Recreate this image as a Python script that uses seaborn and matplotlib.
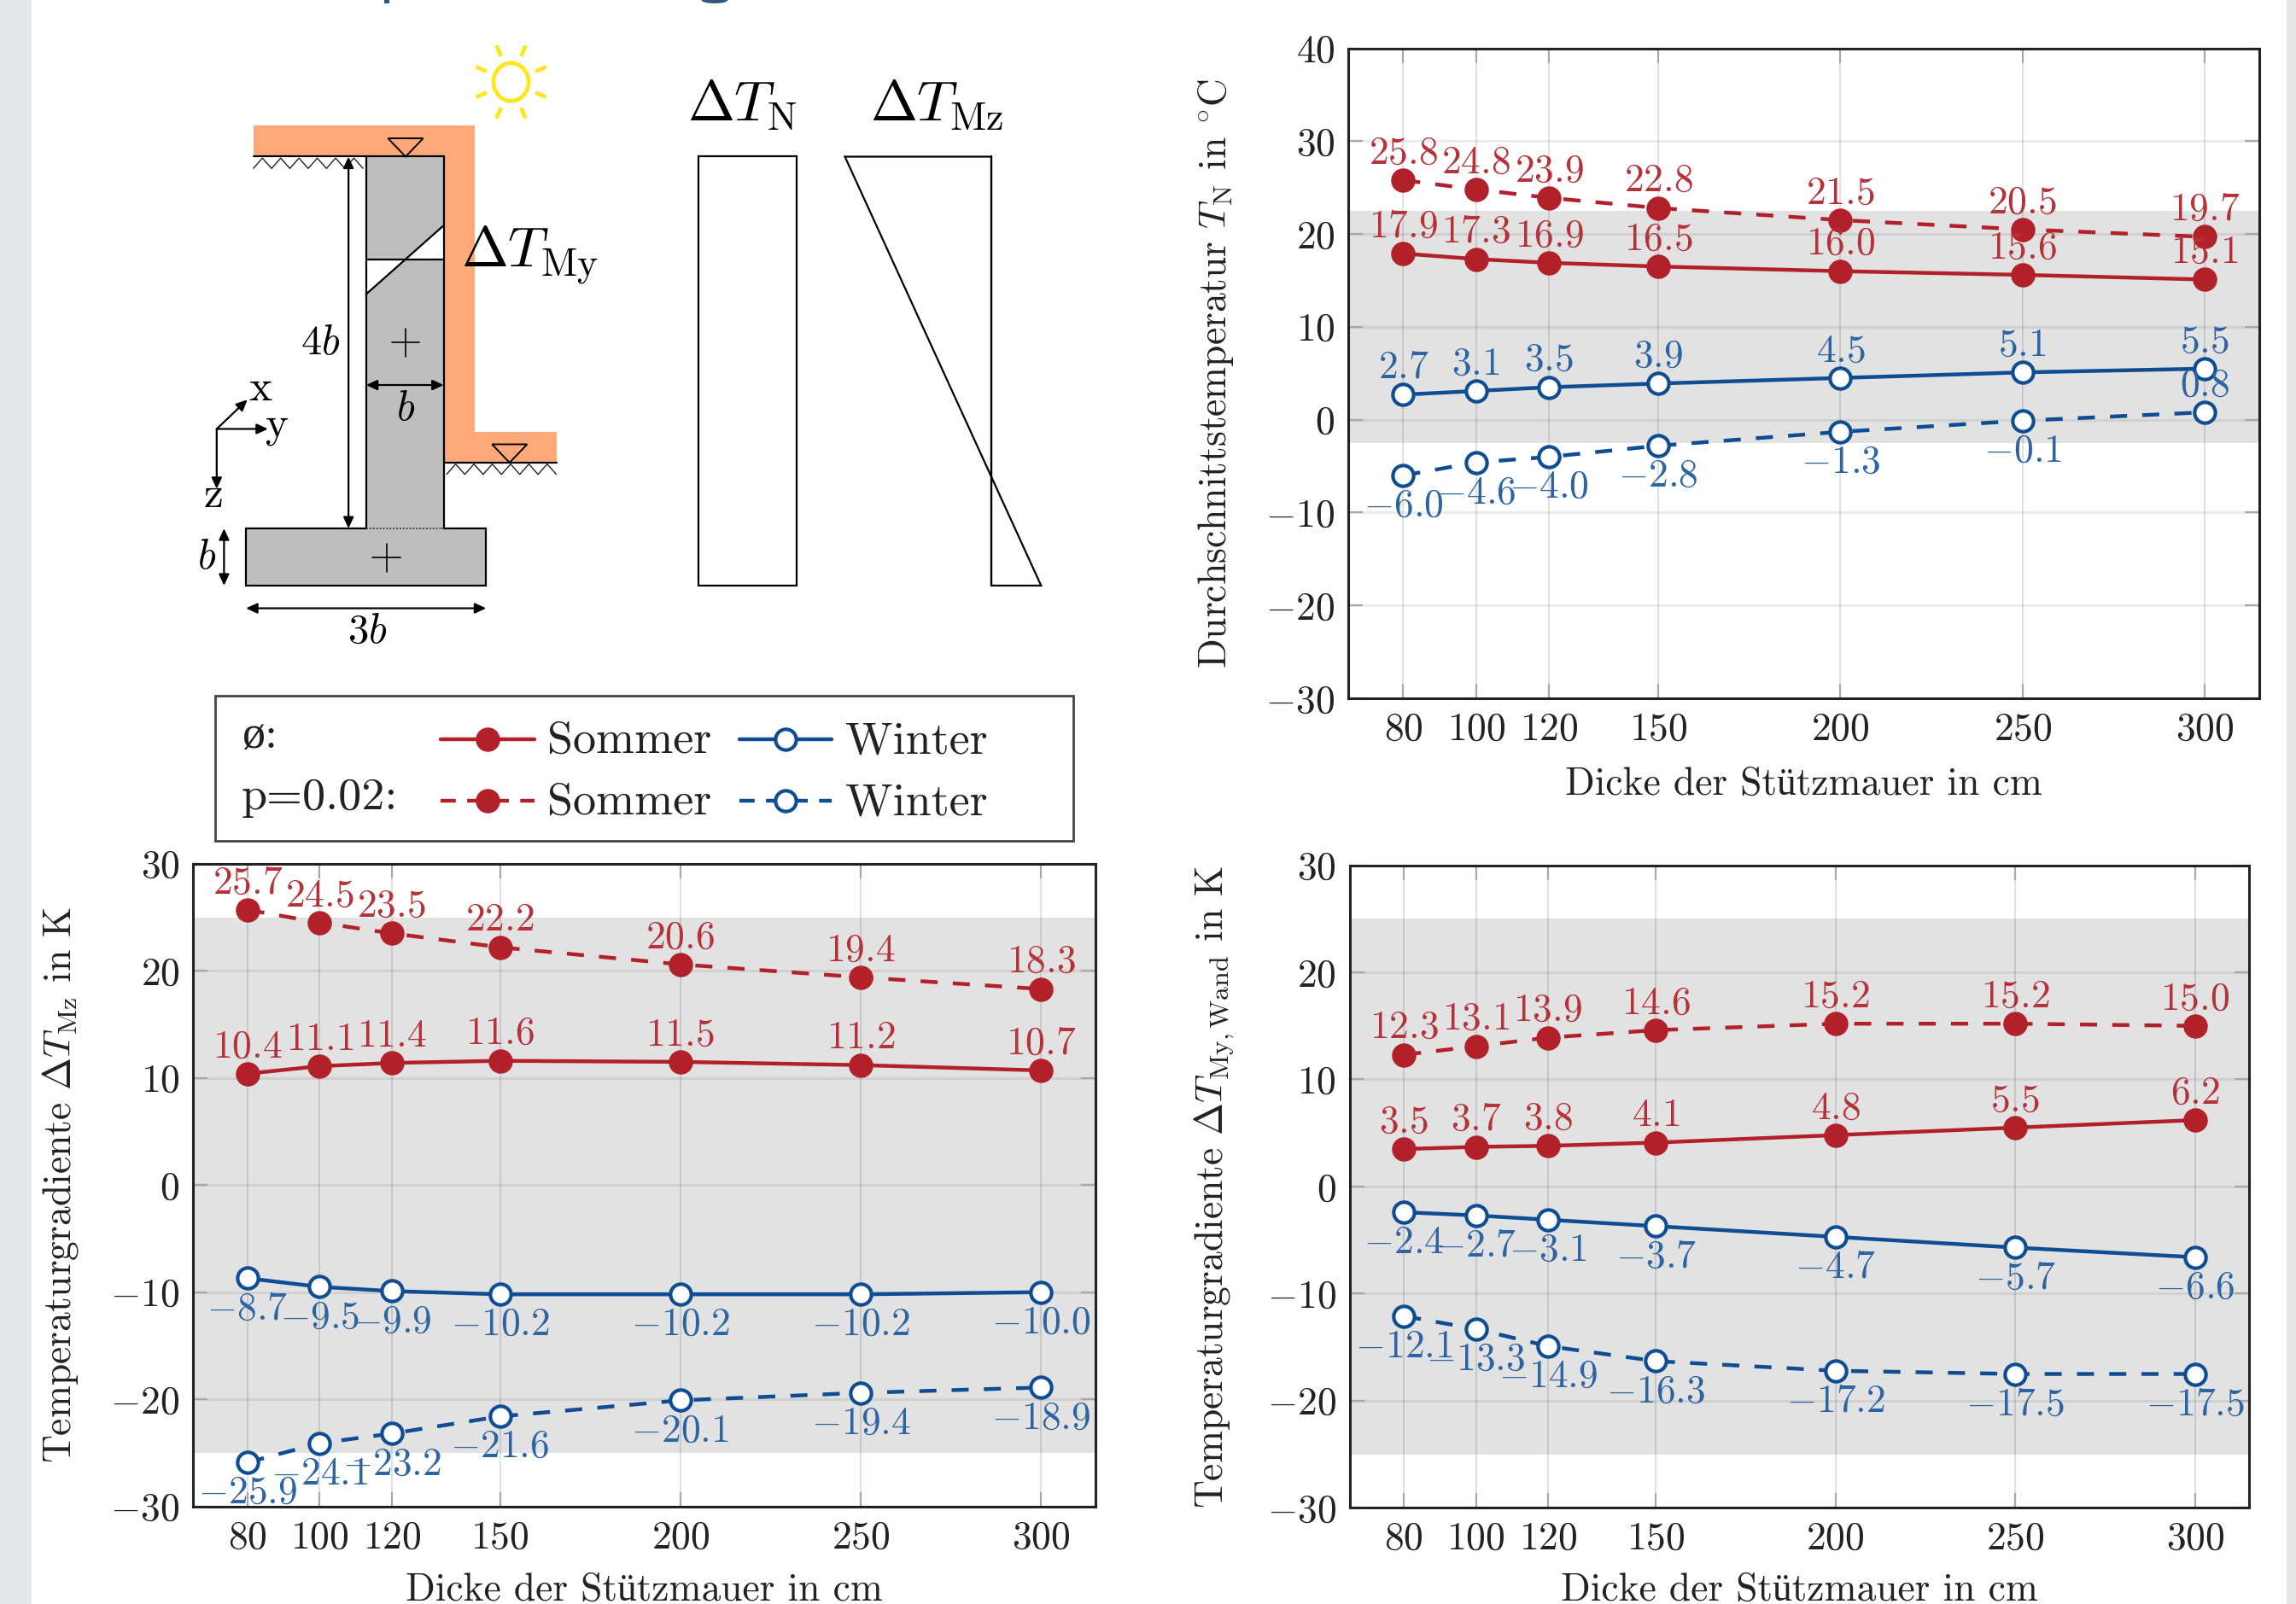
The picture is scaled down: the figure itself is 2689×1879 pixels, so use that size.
import numpy as np
import pandas as pd
import matplotlib
matplotlib.use("Agg")
import matplotlib.pyplot as plt
import seaborn as sns
from matplotlib.patches import Rectangle, Polygon, Ellipse
from matplotlib.lines import Line2D

# ---------- data ----------
dicke = [80, 100, 120, 150, 200, 250, 300]
yticks_n = [-30, -20, -10, 0, 10, 20, 30, 40]
yticks_m = [-30, -20, -10, 0, 10, 20, 30]

tn_sommer = [17.9, 17.3, 16.9, 16.5, 16.0, 15.6, 15.1]
tn_sommer_p = [25.8, 24.8, 23.9, 22.8, 21.5, 20.5, 19.7]
tn_winter = [2.7, 3.1, 3.5, 3.9, 4.5, 5.1, 5.5]
tn_winter_p = [-6.0, -4.6, -4.0, -2.8, -1.3, -0.1, 0.8]

mz_sommer = [10.4, 11.1, 11.4, 11.6, 11.5, 11.2, 10.7]
mz_sommer_p = [25.7, 24.5, 23.5, 22.2, 20.6, 19.4, 18.3]
mz_winter = [-8.7, -9.5, -9.9, -10.2, -10.2, -10.2, -10.0]
mz_winter_p = [-25.9, -24.1, -23.2, -21.6, -20.1, -19.4, -18.9]

my_sommer = [3.5, 3.7, 3.8, 4.1, 4.8, 5.5, 6.2]
my_sommer_p = [12.3, 13.1, 13.9, 14.6, 15.2, 15.2, 15.0]
my_winter = [-2.4, -2.7, -3.1, -3.7, -4.7, -5.7, -6.6]
my_winter_p = [-12.1, -13.3, -14.9, -16.3, -17.2, -17.5, -17.5]

band_n = (-2.5, 22.5)
band_m = (-25, 25)

# ---------- style ----------
sns.set_theme(style="white")
plt.rcParams["font.family"] = ["cmr10", "Liberation Serif", "DejaVu Serif"]
plt.rcParams["mathtext.fontset"] = "cm"
plt.rcParams["axes.unicode_minus"] = True
plt.rcParams["axes.formatter.use_mathtext"] = True

RED = "#B2212A"
BLUE = "#0F4D92"
RED_T = "#B5323A"
BLUE_T = "#2D64A2"
BAND = "#e2e2e2"
DARK = "#222222"
FS = 32.8

W, H = 2689, 1879
S = W / 1568.0
fig = plt.figure(figsize=(W / 100, H / 100), dpi=100, facecolor="white")


def axes_from_s(x0, y0, x1, y1, **kw):
    """Axes placed from shrunken-reference pixel bounds."""
    return fig.add_axes([x0 * S / W, 1 - y1 * S / H, (x1 - x0) * S / W, (y1 - y0) * S / H], **kw)


# ---------- canvas with schematic ----------
bg = axes_from_s(0, 0, 1568, 1096, zorder=0)
bg.set_xlim(0, 1568)
bg.set_ylim(1096, 0)
bg.axis("off")

# side strips and remnants of the cut-off heading
bg.add_patch(Rectangle((0, 0), 21.5, 1096, fc="#e5e7e9", ec="none"))
bg.add_patch(Rectangle((1561.5, 0), 7, 1096, fc="#e5e7e9", ec="none"))
bg.add_patch(Rectangle((262.5, 0), 3.5, 2.3, fc="#2f5778", ec="none"))
bg.add_patch(Ellipse((488, 0), 18, 4.6, fc="#2f5778", ec="none"))

K = "black"
ORANGE = "#FFA97A"
GREY = "#BEBEBE"
bg.add_patch(Polygon([(173, 86), (324, 86), (324, 295), (380, 295), (380, 316), (303, 316),
                      (303, 107), (173, 107)], fc=ORANGE, ec="none"))
bg.add_patch(Rectangle((250, 107), 53, 254, fc=GREY, ec="none"))
# crack
bg.add_patch(Polygon([(250, 177.5), (250, 201), (277, 177.5)], fc="white", ec="none"))
bg.add_patch(Polygon([(303, 154), (303, 177.5), (277, 177.5)], fc="white", ec="none"))
bg.add_patch(Rectangle((250, 107), 53, 254, fc="none", ec=K, lw=1.6))
bg.plot([250, 303], [201, 154], color=K, lw=1.6)
bg.plot([250, 303], [177.5, 177.5], color=K, lw=1.6)
bg.add_patch(Rectangle((168, 361), 164, 39, fc=GREY, ec=K, lw=1.6))
bg.add_patch(Rectangle((250.8, 359.5), 51.4, 3, fc=GREY, ec="none"))
bg.plot([250, 303], [361, 361], color="#444444", lw=1.4, ls=(0, (1, 1)))
# ground lines with hatching
bg.plot([173, 250], [107, 107], color=K, lw=1.6)
bg.plot([303, 380], [316, 316], color=K, lw=1.6)
for x0, x1, y in [(173, 240, 107), (305, 372, 316)]:
    for xa in np.arange(x0, x1, 12.5):
        bg.plot([xa, xa + 6.2, xa + 12.4], [y + 8, y + 1, y + 8], color="#222222", lw=1.0)
# level triangles
for cx, y in [(277, 107), (348, 316)]:
    bg.add_patch(Polygon([(cx - 12, y - 12.5), (cx + 12, y - 12.5), (cx, y)], fc="none", ec=K, lw=1.4))


def darrow(p, q, style="<|-|>", lw=1.6):
    bg.annotate("", xy=q, xytext=p, arrowprops=dict(arrowstyle=style + ",head_length=0.65,head_width=0.3",
                                                    color=K, lw=lw, shrinkA=0, shrinkB=0))


darrow((238, 107), (238, 361))
darrow((250, 263), (303, 263))
darrow((153, 361), (153, 400))
darrow((168, 415.5), (332, 415.5))
darrow((148, 293), (169, 273), "-|>")
darrow((148, 293), (183, 293), "-|>")
darrow((148, 293), (148, 334), "-|>")
# plus signs
for cx, cy in [(277, 234), (264, 381)]:
    bg.plot([cx - 9.5, cx + 9.5], [cy, cy], color=K, lw=1.2)
    bg.plot([cx, cx], [cy - 9.5, cy + 9.5], color=K, lw=1.2)

tx = dict(ha="center", va="center", color="black")
bg.text(219, 235, r"$4b$", fontsize=35, **tx)
bg.text(277, 280, r"$b$", fontsize=35, **tx)
bg.text(141, 381, r"$b$", fontsize=35, **tx)
bg.text(251, 432, r"$3b$", fontsize=35, **tx)
bg.text(178, 266, "x", fontsize=37, **tx)
bg.text(189, 291, "y", fontsize=37, **tx)
bg.text(146, 339, "z", fontsize=37, **tx)
bg.text(362, 174, r"$\Delta T_{\mathrm{My}}$", fontsize=47.5, **tx)
bg.text(507, 72, r"$\Delta T_{\mathrm{N}}$", fontsize=47.5, **tx)
bg.text(640, 72, r"$\Delta T_{\mathrm{Mz}}$", fontsize=47.5, **tx)

# stress blocks
bg.add_patch(Rectangle((477, 107), 67, 293, fc="none", ec=K, lw=1.6))
bg.add_patch(Polygon([(577, 107), (677, 107), (677, 400), (711, 400)], fc="none", ec=K, lw=1.6))
bg.plot([677, 677], [107, 400], color=K, lw=1.6)

# sun
SUN = "#FFE61E"
bg.add_patch(Ellipse((349, 56), 24, 26, fc="none", ec=SUN, lw=3.4))
for a in np.deg2rad(np.arange(22.5, 360, 45)):
    bg.plot([349 + 18 * np.cos(a), 349 + 26 * np.cos(a)], [56 + 19 * np.sin(a), 56 + 27 * np.sin(a)],
            color=SUN, lw=3.4, solid_capstyle="butt")

# legend box
bg.add_patch(Rectangle((147, 475.5), 586, 99, fc="white", ec="#444444", lw=2))
ltx = dict(fontsize=39, va="center", color="#222222")
bg.text(165, 503, "ø:", **ltx)
bg.text(165, 545, "p=0.02:", **ltx)
for yy, dash in [(505, "-"), (547, (0, (4, 3)))]:
    for x0, x1, col, fill, name in [(301, 365, RED, RED, "Sommer"), (505, 568, BLUE, "white", "Winter")]:
        bg.add_line(Line2D([x0, x1], [yy, yy], color=col, lw=3.2, ls=dash))
        bg.add_line(Line2D([(x0 + x1) / 2], [yy], color=col, marker="o", ms=17.5, mfc=fill, mec=col, mew=3, ls="none"))
        bg.text(x1 + 9, yy + 1.5, name, **ltx)


# ---------- panels ----------
def panel(bounds, band, yticks, ylim, ylabel, series, lx, ly=0.5, xly=-0.133):
    ax = axes_from_s(*bounds, zorder=2)
    ax.patch.set_alpha(0)
    ax.axhspan(band[0], band[1], color=BAND, lw=0, zorder=0)
    ax.set_axisbelow(True)
    ax.set_xlim(65, 315)
    ax.set_ylim(*ylim)
    for vals, col, tcol, fill, dash in series:
        df = pd.DataFrame({"Dicke": dicke, "Wert": vals})
        sns.lineplot(data=df, x="Dicke", y="Wert", ax=ax, color=col, lw=3.2, linestyle=dash,
                     marker="o", markersize=17.5, markerfacecolor=fill, markeredgecolor=col,
                     markeredgewidth=3, errorbar=None, legend=False, zorder=3)
        for x, v in zip(dicke, vals):
            ax.annotate(f"${v:.1f}$", (x, v), xytext=(0, 22.5 if v >= 0 else -26), textcoords="offset points",
                        ha="center", va="center", color=tcol, fontsize=FS, zorder=4)
    ax.set_xticks(dicke)
    ax.set_xticklabels([f"${d}$" for d in dicke])
    ax.set_yticks(yticks)
    ax.set_yticklabels([f"${t}$" for t in yticks])
    ax.tick_params(axis="both", direction="in", length=12, width=1.6, color="#a8a8a8",
                   labelsize=FS, labelcolor="#222222", pad=11.5, left=True, bottom=True, right=True, top=True)
    ax.grid(False)
    ax.xaxis.grid(True, color="#000000", alpha=0.13, lw=1.3)
    ax.yaxis.grid(True, color="#000000", alpha=0.08, lw=2.2)
    for s in ax.spines.values():
        s.set_color(DARK)
        s.set_linewidth(2.2)
        s.set_zorder(6)
    ax.set_xlabel("Dicke der Stützmauer in cm", fontsize=FS, color="#222222")
    ax.set_ylabel(ylabel, fontsize=FS, color="#222222")
    ax.xaxis.set_label_coords(0.5, xly, transform=ax.transAxes)
    ax.xaxis.label.set_va("center")
    ax.yaxis.set_label_coords(lx, ly, transform=ax.transAxes)
    ax.yaxis.label.set_va("center")
    return ax


DASH = (0, (4.5, 4))
panel((921, 33, 1543, 477), band_n, yticks_n, (-30, 40),
      r"Durchschnittstemperatur $T_{\mathrm{N}}$ in $^{\circ}$C",
      [(tn_sommer, RED, RED_T, RED, "-"), (tn_sommer_p, RED, RED_T, RED, DASH),
       (tn_winter, BLUE, BLUE_T, "white", "-"), (tn_winter_p, BLUE, BLUE_T, "white", DASH)], -0.146)
panel((132, 590, 748, 1029), band_m, yticks_m, (-30, 30),
      r"Temperaturgradiente $\Delta T_{\mathrm{Mz}}$ in K",
      [(mz_sommer, RED, RED_T, RED, "-"), (mz_sommer_p, RED, RED_T, RED, DASH),
       (mz_winter, BLUE, BLUE_T, "white", "-"), (mz_winter_p, BLUE, BLUE_T, "white", DASH)], -0.148, xly=-0.131)
panel((922, 591, 1536, 1030), band_m, yticks_m, (-30, 30),
      r"Temperaturgradiente $\Delta T_{\mathrm{My,Wand}}$ in K",
      [(my_sommer, RED, RED_T, RED, "-"), (my_sommer_p, RED, RED_T, RED, DASH),
       (my_winter, BLUE, BLUE_T, "white", "-"), (my_winter_p, BLUE, BLUE_T, "white", DASH)], -0.151, xly=-0.128)

fig.savefig("out.png", dpi=100, facecolor="white")
